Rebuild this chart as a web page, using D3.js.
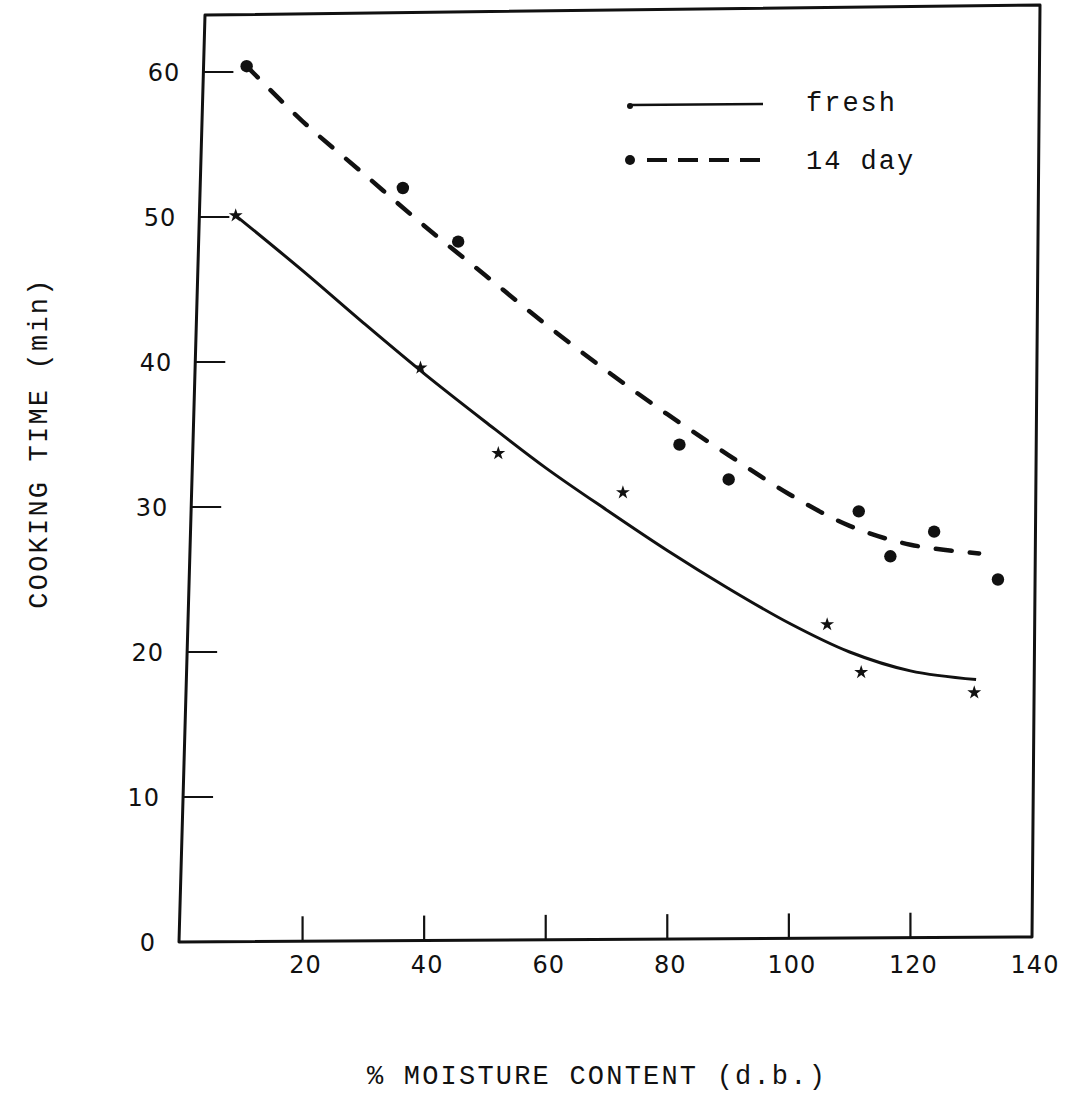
<!DOCTYPE html>
<html>
<head>
<meta charset="utf-8">
<script src="https://cdn.jsdelivr.net/npm/d3@7"></script>
<style>
  html, body { margin: 0; padding: 0; background: #fff; }
  svg { display: block; }
</style>
</head>
<body>
<svg id="chart" width="1078" height="1099"></svg>
<script>
// ---- data ----
const xTicks = [20, 40, 60, 80, 100, 120, 140];
const yTicks = [0, 10, 20, 30, 40, 50, 60];

// fresh samples (stars)
const freshX = [9, 39.4, 52.2, 72.7, 106.3, 111.9, 130.5];
const freshY = [50.1, 39.6, 33.7, 31.0, 21.9, 18.6, 17.2];
// fresh fitted curve (solid)
const freshCurveX = [9, 20, 30, 40, 50, 60, 70, 80, 90, 100, 110, 120, 130.8];
const freshCurveY = [50.1, 46.3, 42.7, 39.2, 35.9, 32.7, 29.8, 27.0, 24.4, 22.0, 20.0, 18.7, 18.1];

// 14 day samples (dots)
const dayX = [10.8, 36.5, 45.6, 82.0, 90.1, 111.5, 116.7, 123.9, 134.4];
const dayY = [60.4, 52.0, 48.3, 34.3, 31.9, 29.7, 26.6, 28.3, 25.0];
// 14 day fitted curve (dashed)
const dayCurveX = [10.8, 20, 30, 40, 50, 60, 70, 80, 90, 100, 110, 120, 131.3];
const dayCurveY = [60.4, 56.6, 53.0, 49.4, 46.0, 42.6, 39.4, 36.4, 33.6, 30.9, 28.7, 27.4, 26.8];

const legendLabels = ["fresh", "14 day"];
const xTitle = "% MOISTURE CONTENT (d.b.)";
const yTitle = "COOKING TIME (min)";

// ---- drawing ----
const svg = d3.select("#chart");
const x = d3.scaleLinear().domain([0, 140]).range([181, 1032]);
const y = d3.scaleLinear().domain([0, 60]).range([942, 72]);

const ink = "#111";
const monoFont = "'Liberation Mono', 'DejaVu Sans Mono', monospace";
const numFont = "'DejaVu Sans', 'Liberation Sans', sans-serif";

// hand-drawn, slightly skewed frame
const yTop = 64;
const leftEdge = py => (x(0) - 2) + (y(0) - py) * (26 / 927);
const framePts = [
  [leftEdge(y(yTop) + 1), y(yTop) + 1],
  [x(140) + 8, y(yTop) - 9],
  [x(140), y(0) - 5],
  [x(0) - 2, y(0)]
];
svg.append("path")
  .attr("d", d3.line()(framePts) + "Z")
  .attr("fill", "none")
  .attr("stroke", ink)
  .attr("stroke-width", 3)
  .attr("stroke-linejoin", "round");

// x ticks (pointing up into the plot)
const bottomAt = px => y(0) - (px - x(0)) * (5 / (x(140) - x(0)));
svg.append("g").selectAll("line")
  .data(xTicks.filter(d => d < 140))
  .join("line")
  .attr("x1", d => x(d)).attr("x2", d => x(d))
  .attr("y1", d => bottomAt(x(d))).attr("y2", d => bottomAt(x(d)) - 25)
  .attr("stroke", ink).attr("stroke-width", 2.2);

svg.append("g").selectAll("text")
  .data(xTicks)
  .join("text")
  .attr("x", d => x(d) + 3)
  .attr("y", 973)
  .attr("text-anchor", "middle")
  .attr("font-family", numFont)
  .attr("font-size", 24)
  .attr("letter-spacing", 1)
  .attr("fill", ink)
  .text(d => d);

// y ticks (pointing right into the plot)
svg.append("g").selectAll("line")
  .data(yTicks.filter(d => d > 0))
  .join("line")
  .attr("x1", d => leftEdge(y(d))).attr("x2", d => leftEdge(y(d)) + 30)
  .attr("y1", d => y(d)).attr("y2", d => y(d))
  .attr("stroke", ink).attr("stroke-width", 2);

svg.append("g").selectAll("text")
  .data(yTicks)
  .join("text")
  .attr("x", d => leftEdge(y(d)) - 23)
  .attr("y", d => y(d) + 9)
  .attr("text-anchor", "end")
  .attr("font-family", numFont)
  .attr("font-size", 24)
  .attr("letter-spacing", 1)
  .attr("fill", ink)
  .text(d => d);

// fitted curves
const line = d3.line()
  .x(d => x(d[0])).y(d => y(d[1]))
  .curve(d3.curveCatmullRom.alpha(0.5));

svg.append("path")
  .datum(freshCurveX.map((v, i) => [v, freshCurveY[i]]))
  .attr("d", line)
  .attr("fill", "none")
  .attr("stroke", ink)
  .attr("stroke-width", 3);

svg.append("path")
  .datum(dayCurveX.map((v, i) => [v, dayCurveY[i]]))
  .attr("d", line)
  .attr("fill", "none")
  .attr("stroke", ink)
  .attr("stroke-width", 4.5)
  .attr("stroke-linecap", "round")
  .attr("stroke-dasharray", "16,18");

// points
svg.append("g").selectAll("path")
  .data(freshX.map((v, i) => [v, freshY[i]]))
  .join("path")
  .attr("transform", d => `translate(${x(d[0])},${y(d[1])})`)
  .attr("d", d3.symbol().type(d3.symbolStar).size(60))
  .attr("fill", ink);

svg.append("g").selectAll("circle")
  .data(dayX.map((v, i) => [v, dayY[i]]))
  .join("circle")
  .attr("cx", d => x(d[0]))
  .attr("cy", d => y(d[1]))
  .attr("r", 6.2)
  .attr("fill", ink);

// legend
const lg = svg.append("g");
lg.append("line").attr("x1", 630).attr("x2", 763).attr("y1", 105).attr("y2", 104)
  .attr("stroke", ink).attr("stroke-width", 2.5);
lg.append("circle").attr("cx", 630).attr("cy", 106).attr("r", 3).attr("fill", ink);
lg.append("line").attr("x1", 647).attr("x2", 760).attr("y1", 160).attr("y2", 160)
  .attr("stroke", ink).attr("stroke-width", 4)
  .attr("stroke-dasharray", "20,11");
lg.append("circle").attr("cx", 630).attr("cy", 160).attr("r", 5).attr("fill", ink);
lg.selectAll("text")
  .data(legendLabels)
  .join("text")
  .attr("x", 806)
  .attr("y", (d, i) => 111 + i * 58)
  .attr("font-family", monoFont)
  .attr("font-size", 27)
  .attr("letter-spacing", 2)
  .attr("fill", ink)
  .text(d => d);

// axis titles
svg.append("text")
  .attr("x", 367)
  .attr("y", 1084)
  .attr("font-family", monoFont)
  .attr("font-size", 27)
  .attr("letter-spacing", 2.2)
  .attr("fill", ink)
  .text(xTitle);

svg.append("text")
  .attr("transform", "translate(47,443) rotate(-90)")
  .attr("text-anchor", "middle")
  .attr("font-family", monoFont)
  .attr("font-size", 27)
  .attr("letter-spacing", 2.2)
  .attr("fill", ink)
  .text(yTitle);
</script>
</body>
</html>
